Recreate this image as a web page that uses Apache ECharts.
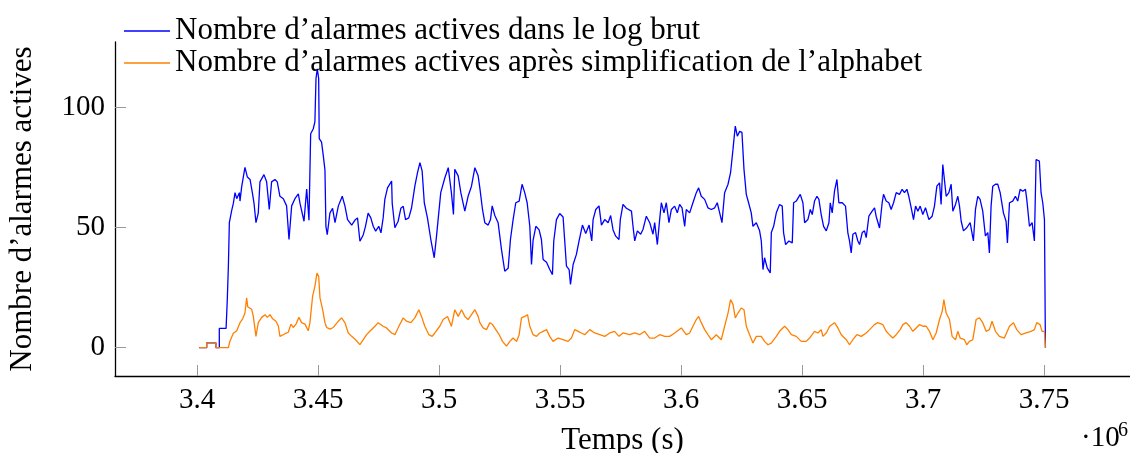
<!DOCTYPE html>
<html>
<head>
<meta charset="utf-8">
<script src="https://cdn.jsdelivr.net/npm/echarts@6/dist/echarts.min.js"></script>
<style>
  html, body { margin: 0; padding: 0; background: #fff; }
  #main { width: 1130px; height: 453px; }
</style>
</head>
<body>
<div id="main"></div>
<script>
// temps (s) et nombre d'alarmes actives
var rawTimes = [
  3400900, 3404000, 3404000, 3407800, 3407800, 3409200, 3409200, 3412000, 3412500, 3412950,
  3413350, 3414300, 3415000, 3415700, 3416400, 3417500, 3417750, 3418450, 3419800, 3420800,
  3421900, 3422850, 3423550, 3424350, 3425300, 3426000, 3427650, 3428750, 3429850, 3430800,
  3432200, 3433150, 3434250, 3435650, 3437000, 3438000, 3439100, 3440450, 3441850, 3442550,
  3444200, 3445300, 3446250, 3446950, 3448000, 3448700, 3449150, 3449700, 3450250, 3450500,
  3451450, 3452150, 3452850, 3453250, 3453800, 3454900, 3456000, 3457000, 3458400, 3460000,
  3461100, 3462200, 3463900, 3465200, 3466300, 3467300, 3468700, 3469600, 3470700, 3471800,
  3472800, 3473800, 3475100, 3476000, 3476900, 3477600, 3478700, 3480400, 3480650, 3481750,
  3483100, 3484200, 3485200, 3486150, 3487500, 3488600, 3490000, 3491100, 3492100, 3493000,
  3493900, 3495200, 3496600, 3498000, 3498950, 3500700, 3502400, 3503800, 3505100, 3505950,
  3506500, 3507900, 3509000, 3510650, 3512000, 3513400, 3514800, 3516150, 3516850, 3517950,
  3518900, 3520300, 3521250, 3521950, 3523050, 3524400, 3525800, 3527150, 3528550, 3529500,
  3530600, 3531700, 3533100, 3534300, 3535400, 3536400, 3537500, 3538200, 3538850, 3540000,
  3541350, 3542300, 3543000, 3544400, 3545750, 3546850, 3547400, 3548500, 3549850, 3551250,
  3552650, 3553750, 3554300, 3555400, 3556750, 3557850, 3559250, 3560600, 3562000, 3563100,
  3563650, 3564750, 3566100, 3567100, 3568450, 3569850, 3570900, 3571900, 3573000, 3574350,
  3574900, 3576000, 3577400, 3578100, 3579500, 3580150, 3580850, 3581950, 3583300, 3584300,
  3585650, 3587050, 3588400, 3589100, 3590200, 3591150, 3591850, 3592950, 3593900, 3595000,
  3596000, 3597350, 3598450, 3599400, 3600400, 3601500, 3602150, 3603550, 3604900, 3606300,
  3607250, 3608350, 3609750, 3611100, 3612500, 3613900, 3614950, 3615950, 3616900, 3618000,
  3619400, 3620450, 3621450, 3622400, 3623250, 3624200, 3625150, 3626000, 3626950, 3627900,
  3629000, 3629700, 3631100, 3632450, 3633150, 3633850, 3634500, 3635600, 3636850, 3637300,
  3638250, 3639350, 3640700, 3641800, 3642350, 3643200, 3644550, 3645950, 3646500, 3647600,
  3649250, 3650350, 3651050, 3652400, 3653400, 3654200, 3655150, 3656150, 3656950, 3657900,
  3658900, 3660000, 3661100, 3661650, 3662450, 3663400, 3664400, 3665200, 3666600, 3667950,
  3668900, 3669600, 3670300, 3671000, 3672100, 3673050, 3673750, 3674850, 3675800, 3676500,
  3677600, 3678950, 3679950, 3680600, 3682000, 3683100, 3683650, 3684750, 3685850, 3686800,
  3687800, 3688900, 3690250, 3691350, 3692300, 3693300, 3694100, 3695100, 3696050, 3696900,
  3697850, 3698800, 3699900, 3701000, 3702400, 3703750, 3704700, 3705700, 3706800, 3707450,
  3708150, 3708850, 3709550, 3710650, 3711600, 3712300, 3713400, 3714350, 3715050, 3715750,
  3716700, 3718050, 3719450, 3720250, 3720800, 3721650, 3722600, 3723550, 3724650, 3725750,
  3726750, 3727400, 3728100, 3728800, 3729900, 3730850, 3731850, 3733200, 3734300, 3734850,
  3735700, 3737050, 3738150, 3739100, 3740100, 3741200, 3742300, 3742850, 3743950, 3745050,
  3746000, 3746700, 3748050, 3748750, 3749450, 3750150, 3750550
];
var rawCounts = [
  0, 0, 2, 2, 0, 0, 8, 8, 20, 34,
  52, 57, 60, 64.5, 62, 64.5, 61, 67, 75, 71,
  70, 64.5, 60, 52, 56, 69, 72, 69, 57.5, 69,
  70, 69, 63, 62, 59, 45, 59, 62, 64, 60,
  52.6, 66, 53, 89, 91, 94, 112, 116, 112, 87,
  85.5, 80, 74, 50.5, 47, 56, 58, 52, 59, 63,
  59, 53.3, 51, 53, 54, 44.3, 47, 50.5, 56, 54,
  50.5, 48.5, 50.5, 47.8, 54, 61.7, 66.5, 69.3, 60, 49.9,
  52.6, 58, 58.8, 53.3, 54, 58, 67.2, 72.8, 77, 73.6,
  60.3, 54, 45, 37.4, 46.4, 64.5, 70.7, 74.9, 64.5, 55.4,
  74.2, 71.5, 64.5, 56.8, 63, 67.2, 74.9, 71.5, 66.5, 57.5,
  52, 51, 53.3, 59, 55, 52, 40.8, 31.8, 33, 45,
  53.3, 60.3, 61, 68, 64.5, 60.3, 50.5, 34.6, 44.6, 50.5,
  49, 45, 36.7, 35.5, 32.5, 30.4, 44.4, 53.3, 55.8, 54.4,
  33.9, 32.5, 26.3, 34.6, 38.8, 44.4, 51, 47.5, 51, 44.4,
  53.3, 57.5, 59, 51, 53.3, 52, 55, 49, 46.4, 45,
  53.3, 59.6, 58, 57.5, 56.8, 50.5, 44.4, 48.6, 47.2, 49.3,
  54.7, 52, 47.2, 52, 42.9, 53.3, 60.3, 56.1, 60.3, 52,
  57.5, 58.9, 56.1, 59.6, 58.2, 50.5, 57.5, 56.1, 60.3, 64.5,
  66.5, 63, 61.7, 58.2, 57.5, 58.2, 60.3, 56.1, 52, 64.5,
  68, 72.8, 82.5, 92.2, 88, 90, 89.6, 74.2, 63.8, 60.3,
  56.1, 50.5, 52, 48.6, 44.4, 32.5, 37.4, 33.2, 31.1, 47.9,
  50.5, 56.1, 59.6, 58.9, 47.9, 42.9, 44.4, 43.6, 60.3, 61,
  63.8, 60.3, 52, 53.3, 57.5, 55.4, 61, 63, 61.7, 55.4,
  50.5, 48.6, 52, 60.3, 56.1, 65.1, 70, 60.3, 60.3, 58.9,
  47.9, 44.4, 39.4, 47.2, 47.9, 44.4, 42.9, 47.9, 48.6, 45.8,
  54.7, 56.8, 58.2, 54.7, 49.8, 60.3, 63.8, 61, 60.3, 57.5,
  60.3, 64.5, 63.8, 65.9, 64.5, 65.9, 63, 58.2, 53.3, 58.9,
  56.8, 58.9, 55.4, 58.2, 53.3, 54.7, 58.9, 67.2, 68.6, 59.6,
  76.2, 75.5, 63, 64.5, 68, 56.8, 59.6, 63, 58.9, 52.6,
  48.6, 49.9, 52, 52.6, 44.4, 57.5, 63, 61.7, 56.8, 46.5,
  47.9, 39.4, 58.9, 67.2, 68, 68, 64.5, 56.1, 52.6, 43.6,
  60.3, 61, 63, 61, 65.9, 65.1, 65.9, 61.7, 50.5, 52,
  44.4, 78.3, 77.6, 64.5, 60.3, 53.3, 0
];

var simpTimes = [
  3400900, 3404000, 3404000, 3407800, 3407800, 3412950, 3413550, 3415000, 3416400, 3417750,
  3418850, 3419800, 3420500, 3420950, 3422550, 3423250, 3424350, 3425300, 3426700, 3428100,
  3429050, 3430150, 3431250, 3432600, 3433600, 3434250, 3436350, 3437700, 3438800, 3439750,
  3440900, 3442100, 3443200, 3444600, 3445950, 3446650, 3447750, 3448700, 3449550, 3450250,
  3450800, 3451900, 3452850, 3453550, 3454900, 3456300, 3458400, 3459700, 3461100, 3462500,
  3463900, 3465500, 3467300, 3468700, 3470050, 3471400, 3473500, 3474850, 3476900, 3478300,
  3480400, 3481750, 3483400, 3485200, 3486550, 3488350, 3490000, 3491650, 3492750, 3494100,
  3495800, 3497150, 3498250, 3500300, 3501700, 3503500, 3505100, 3506500, 3507900, 3509300,
  3510650, 3512000, 3513400, 3514800, 3516150, 3516850, 3518200, 3519600, 3521000, 3522100,
  3523450, 3524850, 3526200, 3527850, 3529250, 3530600, 3532000, 3533100, 3534050, 3535400,
  3536550, 3537500, 3538850, 3540250, 3541600, 3543000, 3544400, 3545750, 3547100, 3549200,
  3551250, 3553300, 3554700, 3556050, 3557450, 3558800, 3560200, 3562250, 3564300, 3566400,
  3568450, 3570550, 3572550, 3574350, 3576000, 3578800, 3580850, 3582900, 3584950, 3587050,
  3589100, 3591150, 3593250, 3595300, 3597350, 3600100, 3602150, 3603550, 3604900, 3606300,
  3607250, 3608350, 3609750, 3611100, 3612500, 3614550, 3616600, 3618000, 3619400, 3620450,
  3621450, 3622400, 3623500, 3624900, 3626000, 3626950, 3628300, 3629700, 3631100, 3633150,
  3634500, 3635900, 3637250, 3638000, 3639350, 3640700, 3642800, 3644150, 3645550, 3647600,
  3649650, 3651700, 3653100, 3655150, 3656550, 3657900, 3658600, 3660000, 3661400, 3663400,
  3664800, 3666200, 3668250, 3669600, 3671000, 3672650, 3674450, 3676500, 3677900, 3679900,
  3681300, 3683350, 3684750, 3686100, 3687500, 3688900, 3690550, 3691650, 3693000, 3694400,
  3695800, 3697150, 3698550, 3699900, 3701300, 3702650, 3704050, 3705400, 3706800, 3707900,
  3708600, 3709550, 3710900, 3712000, 3713400, 3714350, 3715300, 3717100, 3718050, 3719150,
  3720550, 3721900, 3723300, 3724650, 3726050, 3727400, 3728500, 3729900, 3731550, 3733600,
  3735700, 3737350, 3738700, 3740500, 3742550, 3744600, 3746000, 3746950, 3748350, 3749150,
  3750150, 3750550
];
var simpCounts = [
  0, 0, 2, 2, 0, 0, 2.6, 6, 7, 10.4,
  12, 14.4, 20.7, 17, 16, 13, 4.7, 10.4, 12.6, 13.7,
  12.6, 13.7, 12, 11, 9, 4.7, 5.8, 6.4, 9.8, 8.4,
  9.8, 12.6, 10.4, 9.8, 7, 10.4, 21.4, 25.5, 31, 29.7,
  20.7, 15.8, 10.4, 8.4, 7.7, 8.4, 11, 12.4, 10.4, 6.1,
  4.7, 3.3, 1.25, 3.3, 5.4, 6.8, 8.9, 10.4, 8.9, 8.2,
  6.1, 5.4, 8.9, 12.4, 11, 10.4, 12.4, 15.8, 13, 8.9,
  5.4, 4.7, 6.1, 8.9, 11.7, 13, 8.9, 15.8, 13, 15.8,
  13, 11.7, 13.7, 15.8, 13, 10.4, 8.2, 7.5, 10.4, 9.6,
  7.5, 5.4, 2.6, 0.6, 2.6, 4, 2.6, 5.4, 12.4, 13,
  13.7, 8.9, 5.4, 4.7, 6.1, 6.8, 7.5, 4.7, 2.6, 4,
  3.3, 2.6, 4, 7.5, 6.8, 6.1, 5.4, 7.5, 6.1, 5.4,
  4.7, 6.1, 6.8, 4.7, 6.1, 5.4, 6.1, 5.4, 6.8, 4,
  4, 5.4, 4.7, 4.7, 6.1, 8.2, 5.4, 6.1, 8.9, 11.7,
  13, 10.4, 7.5, 5.4, 3.3, 5.4, 3.3, 8.9, 14.4, 20,
  18, 12.4, 14.4, 16.5, 15.8, 8.9, 5.4, 1.9, 4.7, 4.7,
  2.6, 1.2, 1.9, 2.6, 4.7, 6.8, 8.9, 7.5, 5.4, 4.7,
  2.6, 2.6, 4, 6.8, 6.1, 7.5, 4.7, 6.1, 8.9, 10.4,
  8.2, 5.4, 3.3, 1.2, 3.3, 5.4, 4.7, 6.1, 7.5, 9.6,
  10.4, 9.6, 6.8, 5.4, 4, 5.4, 7.5, 9.6, 10.4, 8.9,
  6.8, 8.2, 9.6, 8.9, 8.9, 6.8, 3.3, 6.1, 11.7, 15.1,
  20, 14.4, 11.7, 4.7, 3.3, 6.8, 4, 3.3, 1.2, 2.6,
  3.3, 11.7, 12.4, 10.4, 6.8, 7.5, 11, 6.8, 4.7, 4,
  8.9, 10.4, 7.5, 5.4, 6.1, 6.8, 7.5, 10.4, 9.6, 6.8,
  6.8, 0
];

var xTicks = [3400000, 3450000, 3500000, 3550000, 3600000, 3650000, 3700000, 3750000];
var yTicks = [0, 50, 100];

var seriesNames = [
  'Nombre d\u2019alarmes actives dans le log brut',
  'Nombre d\u2019alarmes actives apr\u00e8s simplification de l\u2019alphabet'
];

function zip(t, v) {
  return t.map(function (x, i) { return [x, v[i]]; });
}

var FONT = 'Liberation Serif';
var chartDom = document.getElementById('main');
var myChart = echarts.init(chartDom);
var option;

option = {
  animation: false,
  backgroundColor: '#fff',
  grid: { left: 115, right: 0, top: 42, bottom: 77, containLabel: false, outerBoundsMode: 'none' },
  legend: {
    orient: 'vertical',
    left: 124,
    top: 14,
    padding: 0,
    icon: 'rect',
    itemWidth: 46,
    itemHeight: 1.4,
    itemGap: -2,
    textStyle: { fontFamily: FONT, fontSize: 31, color: '#000', lineHeight: 34 },
    data: seriesNames
  },
  xAxis: {
    type: 'value',
    min: 3366100,
    max: 3785500,
    name: 'Temps (s)',
    nameLocation: 'middle',
    nameGap: 49,
    nameTextStyle: { fontFamily: FONT, fontSize: 31, color: '#000' },
    axisLine: { show: true, onZero: false, lineStyle: { color: '#000', width: 1.3 } },
    axisTick: { show: true, inside: true, length: 11, customValues: xTicks, lineStyle: { color: '#999' } },
    axisLabel: {
      customValues: xTicks,
      margin: 10,
      fontFamily: FONT, fontSize: 29, color: '#000',
      formatter: function (v) { return String(+(v / 1e6).toFixed(2)); }
    },
    splitLine: { show: false }
  },
  yAxis: {
    type: 'value',
    min: -11.8,
    max: 127.2,
    name: 'Nombre d\u2019alarmes actives',
    nameLocation: 'middle',
    nameGap: 77,
    nameTextStyle: { fontFamily: FONT, fontSize: 31, color: '#000' },
    axisLine: { show: true, onZero: false, lineStyle: { color: '#000', width: 1.3 } },
    axisTick: { show: true, inside: true, length: 11, customValues: yTicks, lineStyle: { color: '#999' } },
    axisLabel: { customValues: yTicks, margin: 10, fontFamily: FONT, fontSize: 29, color: '#000' },
    splitLine: { show: false }
  },
  graphic: [
    { type: 'text', left: 1081, top: 424, style: { text: '\u00b710', font: '29px "Liberation Serif"', fill: '#000' } },
    { type: 'text', left: 1118, top: 421, style: { text: '6', font: '20px "Liberation Serif"', fill: '#000' } }
  ],
  series: [
    {
      name: seriesNames[0],
      type: 'line',
      symbol: 'none',
      color: '#0000ff',
      lineStyle: { width: 1.3 },
      data: zip(rawTimes, rawCounts)
    },
    {
      name: seriesNames[1],
      type: 'line',
      symbol: 'none',
      color: '#ff8000',
      lineStyle: { width: 1.3 },
      data: zip(simpTimes, simpCounts)
    }
  ]
};

option && myChart.setOption(option);
window.addEventListener('resize', function () {
  myChart.resize();
});
</script>
</body>
</html>
